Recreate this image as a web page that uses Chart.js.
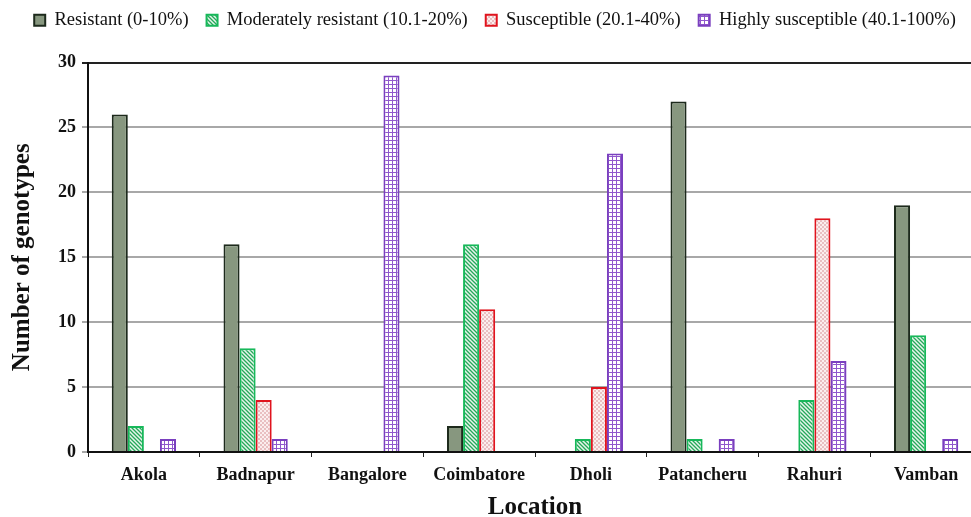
<!DOCTYPE html>
<html>
<head>
<meta charset="utf-8">
<script src="https://cdn.jsdelivr.net/npm/chart.js@4.4.0/dist/chart.umd.min.js"></script>
<style>
	html, body { margin: 0; padding: 0; background: #fff; overflow: hidden; }
	#wrap { width: 1000px; height: 517px; }
</style>
</head>
<body>
<div id="wrap"><canvas id="genotype-chart"></canvas></div>
<script>
	// Locations along the x axis
	var locations = ['Akola', 'Badnapur', 'Bangalore', 'Coimbatore', 'Dholi', 'Patancheru', 'Rahuri', 'Vamban'];

	// Number of genotypes per reaction class
	var resistant = [26, 16, 0, 2, 0, 27, 0, 19];
	var moderatelyResistant = [2, 8, 0, 16, 1, 1, 4, 9];
	var susceptible = [0, 4, 0, 11, 5, 0, 18, 0];
	var highlySusceptible = [1, 1, 29, 0, 23, 1, 7, 1];

	var seriesNames = ['Resistant (0-10%)', 'Moderately resistant (10.1-20%)', 'Susceptible (20.1-40%)', 'Highly susceptible (40.1-100%)'];
	var yTicks = [0, 5, 10, 15, 20, 25, 30];

	var serif = "'Liberation Serif', 'Times New Roman', serif";

	// Small tiles used as fill patterns
	var makePattern = function(size, draw) {
		var c = document.createElement('canvas');
		c.width = size;
		c.height = size;
		var g = c.getContext('2d');
		draw(g, size);
		return g.createPattern(c, 'repeat');
	};

	var hatchGreen = makePattern(4, function(g, s) {
		g.fillStyle = '#e6f5eb';
		g.fillRect(0, 0, s, s);
		g.strokeStyle = '#25a85a';
		g.lineWidth = 1.3;
		g.beginPath();
		g.moveTo(-1, -1); g.lineTo(s + 1, s + 1);
		g.moveTo(-1, s - 1); g.lineTo(1, s + 1);
		g.moveTo(s - 1, -1); g.lineTo(s + 1, 1);
		g.stroke();
	});

	var checkPink = makePattern(4, function(g, s) {
		g.fillStyle = '#fbeeee';
		g.fillRect(0, 0, s, s);
		g.fillStyle = '#e9bfc1';
		g.fillRect(0, 0, 2, 2);
		g.fillRect(2, 2, 2, 2);
	});

	var gridPurple = makePattern(4, function(g, s) {
		g.fillStyle = '#ffffff';
		g.fillRect(0, 0, s, s);
		g.fillStyle = '#9058cc';
		g.fillRect(0, 0, s, 1);
		g.fillRect(0, 0, 1, s);
	});

	var fills = ['#87977f', hatchGreen, checkPink, gridPurple];
	var borders = ['#1d2a1c', '#17b85a', '#e0141e', '#7a3fbf'];
	var values = [resistant, moderatelyResistant, susceptible, highlySusceptible];

	var datasets = [];
	for (var i = 0; i < values.length; i++) {
		datasets.push({
			label: seriesNames[i],
			data: values[i],
			backgroundColor: fills[i],
			borderColor: borders[i],
			borderWidth: 2,
			categoryPercentage: 0.575,
			barPercentage: 1.0
		});
	}

	// Extra room under the legend
	var legendSpace = {
		id: 'legendSpace',
		beforeInit: function(chart) {
			var fit = chart.legend.fit;
			chart.legend.fit = function() {
				fit.bind(chart.legend)();
				this.height += 23;
			};
		}
	};

	var ctx = document.getElementById('genotype-chart').getContext('2d');
	var chart = new Chart(ctx, {
		type: 'bar',
		data: { labels: locations, datasets: datasets },
		plugins: [legendSpace],
		options: {
			responsive: true,
			maintainAspectRatio: false,
			animation: false,
			layout: { padding: { left: 8, right: 18, top: -7, bottom: 0 } },
			plugins: {
				tooltip: { enabled: false },
				legend: {
					position: 'top',
					labels: {
						boxWidth: 11,
						boxHeight: 11,
						padding: 18,
						color: '#111',
						font: { family: serif, size: 18.5 }
					}
				}
			},
			scales: {
				x: {
					grid: { display: true, drawOnChartArea: false, color: '#222', tickLength: 5, lineWidth: 1 },
					border: { color: '#111', width: 2 },
					ticks: { color: '#111', padding: 8, font: { family: serif, size: 18, weight: 'bold' } },
					title: { display: true, text: 'Location', color: '#111', padding: { top: 4, bottom: -6 }, font: { family: serif, size: 25, weight: 'bold' } },
					afterFit: function(scale) { scale.height = 65; }
				},
				y: {
					min: 0,
					max: 30,
					afterBuildTicks: function(scale) {
						scale.ticks = yTicks.map(function(v) { return { value: v }; });
					},
					grid: {
						color: function(c) { return c.tick && c.tick.value === 30 ? '#222' : '#a8a8a8'; },
						lineWidth: 2,
						tickLength: 6
					},
					border: { color: '#111', width: 2 },
					ticks: { color: '#111', padding: 6, font: { family: serif, size: 18, weight: 'bold' } },
					title: { display: true, text: 'Number of genotypes', color: '#111', padding: { top: 0, bottom: 8 }, font: { family: serif, size: 25, weight: 'bold' } },
					afterFit: function(scale) { scale.width = 80; }
				}
			}
		}
	});
</script>
</body>
</html>
